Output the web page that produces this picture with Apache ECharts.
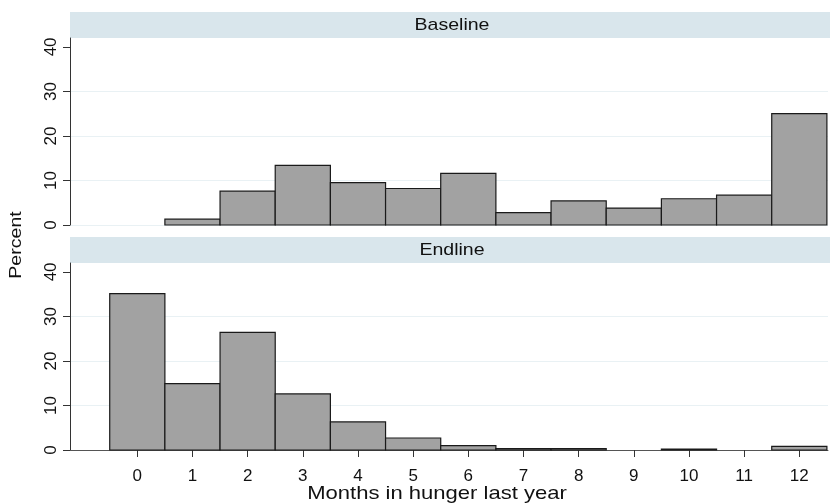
<!DOCTYPE html>
<html>
<head>
<meta charset="utf-8">
<script src="https://cdn.jsdelivr.net/npm/echarts@6/dist/echarts.min.js"></script>
<style>html,body{margin:0;padding:0;background:#fff}#c{width:830px;height:503px}</style>
</head>
<body>
<div id="c"></div>
<script>
const months = [0,1,2,3,4,5,6,7,8,9,10,11,12];
const baseline = [0, 1.3, 7.6, 13.4, 9.5, 8.2, 11.6, 2.8, 5.4, 3.8, 5.9, 6.7, 25.0];
const endline = [35.1, 14.9, 26.4, 12.6, 6.3, 2.7, 1.0, 0.3, 0.3, 0, 0.2, 0, 0.8];
const yTicks = [0,10,20,30,40];
const panelTitles = ['Baseline','Endline'];
const xTitle = 'Months in hunger last year';
const yTitle = 'Percent';

const FONT = '"Liberation Sans", Arial, Helvetica, sans-serif';
const chart = echarts.init(document.getElementById('c'), null, {renderer:'canvas'});

function renderBar(params, api){
  const x = api.value(0), y = api.value(1);
  if (!y) return null;
  const p0 = api.coord([x-0.5, y]);
  const p1 = api.coord([x+0.5, 0]);
  return {type:'rect', shape:{x:p0[0], y:p0[1], width:p1[0]-p0[0], height:p1[1]-p0[1]},
    style:{fill:'#a2a2a2', stroke:'#1a1a1a', lineWidth:1.2}};
}

const grids = [
  {left:70, right:2, top:38, height:187},
  {left:70, right:2, top:263, height:187}
];
function yAxis(i){
  return {type:'value', gridIndex:i, min:0, max:42.0,
    axisLine:{show:true, onZero:false, lineStyle:{color:'#333', width:1}},
    axisTick:{show:true, length:7, customValues:yTicks, lineStyle:{color:'#333'}},
    axisLabel:{customValues:yTicks, rotate:90, fontSize:17, color:'#111', fontFamily:FONT, margin:10},
    splitLine:{show:true, showMaxLine:false, lineStyle:{color:'#e9f1f4', width:1}}
  };
}
const option = {
  animation:false,
  backgroundColor:'#fff',
  grid: grids,
  xAxis:[
    {type:'value', gridIndex:0, min:-1.22, max:12.52, axisLine:{show:false}, axisTick:{show:false}, axisLabel:{show:false}, splitLine:{show:false}},
    {type:'value', gridIndex:1, min:-1.22, max:12.52,
      axisLine:{show:true, onZero:false, lineStyle:{color:'#555', width:1}},
      axisTick:{show:true, length:7, customValues:months, lineStyle:{color:'#333'}},
      axisLabel:{customValues:months, fontSize:17, color:'#111', fontFamily:FONT, margin:18},
      splitLine:{show:false}
    }
  ],
  yAxis:[yAxis(0), yAxis(1)],
  graphic:[
    {type:'rect', shape:{x:70, y:12, width:760, height:26}, style:{fill:'#d9e6ec'}, silent:true},
    {type:'rect', shape:{x:70, y:237, width:760, height:26}, style:{fill:'#d9e6ec'}, silent:true},
    {type:'text', x:452, y:25, scaleX:1.15, style:{text:panelTitles[0], font:'17px '+FONT, fill:'#111', textAlign:'center', textVerticalAlign:'middle'}},
    {type:'text', x:452, y:250, scaleX:1.15, style:{text:panelTitles[1], font:'17px '+FONT, fill:'#111', textAlign:'center', textVerticalAlign:'middle'}},
    {type:'text', x:16, y:245, rotation:Math.PI/2, scaleX:1.15, style:{text:yTitle, font:'17px '+FONT, fill:'#111', textAlign:'center', textVerticalAlign:'middle'}},
    {type:'text', x:437, y:494, scaleX:1.16, style:{text:xTitle, font:'19px '+FONT, fill:'#111', textAlign:'center', textVerticalAlign:'middle'}}
  ],
  series:[
    {type:'custom', xAxisIndex:0, yAxisIndex:0, renderItem:renderBar, data:months.map((m,i)=>[m, baseline[i]]), clip:false},
    {type:'custom', xAxisIndex:1, yAxisIndex:1, renderItem:renderBar, data:months.map((m,i)=>[m, endline[i]]), clip:false}
  ]
};
chart.setOption(option);
</script>
</body>
</html>
